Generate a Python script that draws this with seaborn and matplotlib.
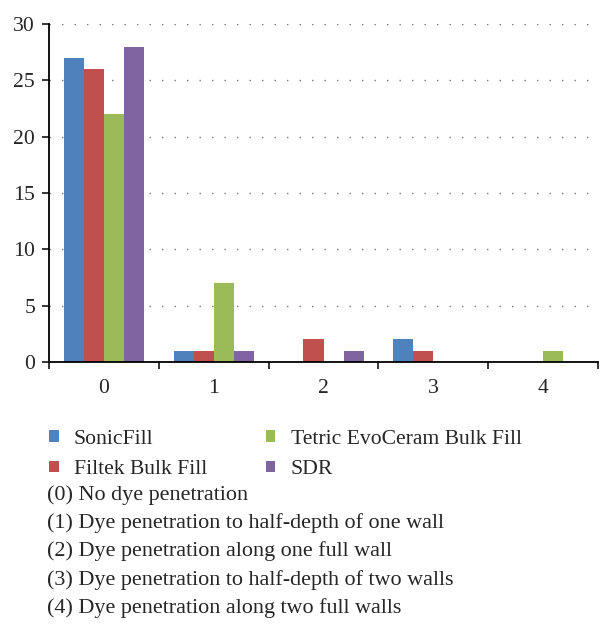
import matplotlib
matplotlib.use("Agg")
import matplotlib.pyplot as plt
import seaborn as sns
import pandas as pd
import numpy as np

categories = ["0", "1", "2", "3", "4"]
materials = ["SonicFill", "Filtek Bulk Fill", "Tetric EvoCeram Bulk Fill", "SDR"]
sonicfill = [27, 1, 0, 2, 0]
filtek = [26, 1, 2, 1, 0]
tetric = [22, 7, 0, 0, 1]
sdr = [28, 1, 1, 0, 0]
descriptions = [
    "(0) No dye penetration",
    "(1) Dye penetration to half-depth of one wall",
    "(2) Dye penetration along one full wall",
    "(3) Dye penetration to half-depth of two walls",
    "(4) Dye penetration along two full walls",
]
colors = ["#4F81BD", "#C0504D", "#9BBB59", "#8064A2"]

rows = []
for m, vals in zip(materials, [sonicfill, filtek, tetric, sdr]):
    for c, v in zip(categories, vals):
        rows.append({"Score": c, "Material": m, "Count": v})
df = pd.DataFrame(rows)

sns.set_style("white")
plt.rcParams["font.family"] = ["Liberation Serif", "DejaVu Serif"]

FS = 15.6
fig = plt.figure(figsize=(6.08, 6.33), dpi=100)
ax = fig.add_axes([49/608, 1-362/633, 549/608, 338/633])
sns.barplot(data=df, x="Score", y="Count", hue="Material", order=categories,
            hue_order=materials, palette=colors, width=0.73, saturation=1,
            linewidth=0, ax=ax, legend=True)

ax.set_ylim(0, 30)
ax.set_xlim(-0.5, 4.5)
ax.set_yticks(range(0, 31, 5))
ax.yaxis.grid(True, linestyle=(0, (1, 8)), color="#777777", linewidth=1)
ax.set_axisbelow(True)
ax.set_xlabel("")
ax.set_ylabel("")
for s in ["top", "right"]:
    ax.spines[s].set_visible(False)
for s in ["left", "bottom"]:
    ax.spines[s].set_color("black")
    ax.spines[s].set_linewidth(1.3)
ax.tick_params(axis="y", which="major", left=True, length=5, width=1.3,
               labelsize=FS, pad=5, direction="out")
ax.tick_params(axis="x", which="major", bottom=True, length=0,
               labelsize=FS, pad=12)
ax.set_xticks(np.arange(-0.5, 5, 1), minor=True)
ax.tick_params(axis="x", which="minor", bottom=True, length=5, width=1.3,
               direction="out")

handles, labels = ax.get_legend_handles_labels()
ax.get_legend().remove()
fig.legend(handles, labels, loc="upper left", bbox_to_anchor=(49/608, 1-430/633),
           ncol=2, frameon=False, fontsize=FS, handlelength=0.45,
           handleheight=0.45, handletextpad=0.7, columnspacing=2.7,
           labelspacing=0.52, borderaxespad=0, borderpad=0)

y0 = 495
for i, d in enumerate(descriptions):
    fig.text(47/608, 1-(y0 + i*28.25)/633, d, fontsize=15.9, va="center", ha="left")

fig.savefig("out.png", dpi=100)
